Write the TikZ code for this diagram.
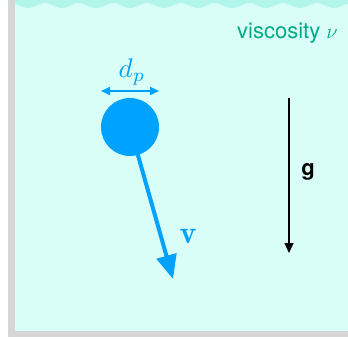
\documentclass[tikz,border=0pt]{standalone}
\usepackage{amsmath,amssymb}
\usepackage{graphicx}
\usepackage{fontspec}
\newfontfamily\helv{TeX Gyre Heros}
\usepackage{tikz}
\usetikzlibrary{arrows.meta}
\definecolor{fluid}{RGB}{217,253,247}
\definecolor{wave}{RGB}{178,245,234}
\definecolor{wall}{RGB}{214,214,214}
\definecolor{ball}{RGB}{0,162,255}
\definecolor{visc}{RGB}{0,172,136}

\begin{document}
\begin{tikzpicture}[x=1pt,y=-1pt,
    vel/.style={ball,line width=4pt,-{Triangle[width=20pt,length=24pt]}},
    diam/.style={ball,line width=2pt,{Triangle[width=8pt,length=9pt]}-{Triangle[width=8pt,length=9pt]}},
    grav/.style={black,line width=1.3pt,-{Triangle[width=9pt,length=10pt]}}]
        \useasboundingbox (0,0) rectangle (348,338);
        \fill[wall] (8,0) rectangle (348,337);
        \fill[fluid] (15,0) rectangle (348,331);
        \fill[wave] (15,0) -- plot[domain=15:348,samples=120,smooth] (\x,{5.5-2.5*cos(((\x-11)/34)*360)}) -- (348,0) -- cycle;
        \node[circle,fill=ball,minimum size=58pt,inner sep=0pt] (ball) at (130,127) {};
        \coordinate (vtip) at (173,279);
        \draw[vel] (ball.center) -- (vtip);
        \coordinate (dl) at (101,91);
        \coordinate (dr) at (159,91);
        \draw[diam] (dl) -- (dr);
        \node[anchor=base,text=ball,inner sep=0pt] (dlab) at (132,77) {\scalebox{2.7}{$d_p$}};
        \node[anchor=base,text=ball,inner sep=0pt] (vlab) at (188,243) {\scalebox{3.2}{$\mathbf{v}$}};
        \coordinate (gtop) at (289,98);
        \coordinate (gbot) at (289,253);
        \draw[grav] (gtop) -- (gbot);
        \node[anchor=base,font=\helv\bfseries\fontsize{22}{26}\selectfont,inner sep=0pt] (glab) at (308,175) {g};
        \node[anchor=base east,text=visc,font=\helv\fontsize{22}{26}\selectfont,inner sep=0pt] (visc) at (338,38) {viscosity $\nu$};
      \end{tikzpicture}
\end{document}
